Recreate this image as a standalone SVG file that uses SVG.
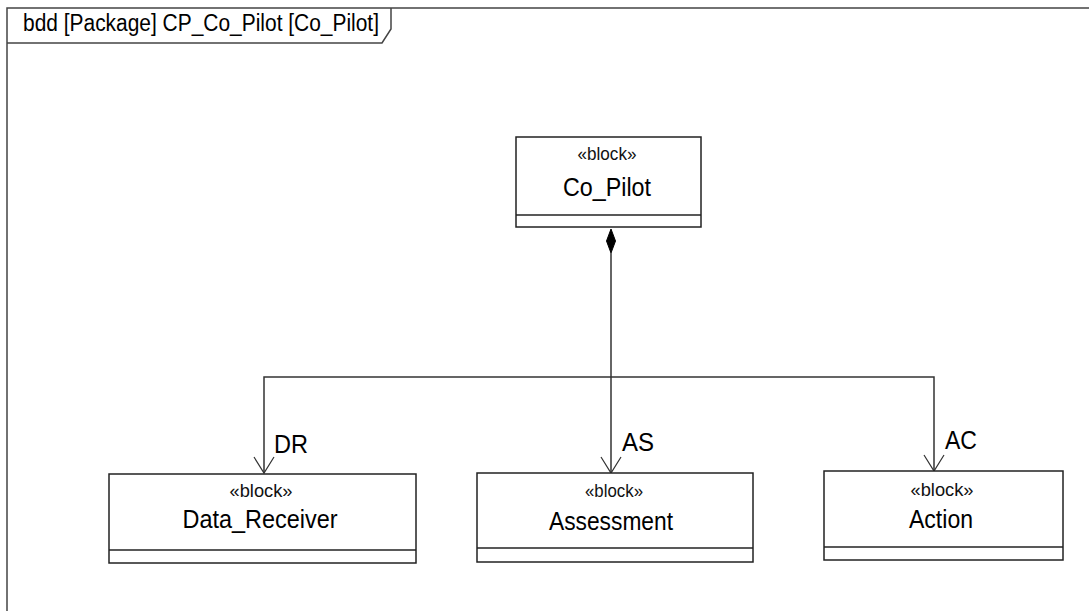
<svg xmlns="http://www.w3.org/2000/svg" width="1089" height="611" viewBox="0 0 1089 611">
  <style>
    .frame { fill: none; stroke: #444; stroke-width: 1.5; }
    .block { fill: #fff; stroke: #222; stroke-width: 1.5; }
    .sep { stroke: #222; stroke-width: 1.5; }
    .conn { fill: none; stroke: #333; stroke-width: 1.5; }
    .head { fill: none; stroke: #333; stroke-width: 1.2; }
    .stereo { font-family: "Liberation Sans Narrow", "Liberation Sans", Arial, sans-serif; font-size: 19px; fill: #111; text-anchor: middle; }
    .name { font-family: "Liberation Sans Narrow", "Liberation Sans", Arial, sans-serif; font-size: 26px; fill: #000; text-anchor: middle; }
    .role { font-family: "Liberation Sans Narrow", "Liberation Sans", Arial, sans-serif; font-size: 26px; fill: #000; }
    .title { font-family: "Liberation Sans Narrow", "Liberation Sans", Arial, sans-serif; font-size: 23px; fill: #000; }
  </style>
  <rect width="1089" height="611" fill="#fff"/>

  <!-- diagram frame and heading tab -->
  <g id="frame">
    <path class="frame" d="M7,611 V8 H1089"/>
    <path class="frame" d="M7,43 H382 L391,29 V8"/>
    <text class="title" x="23" y="31" textLength="356" lengthAdjust="spacingAndGlyphs">bdd [Package] CP_Co_Pilot [Co_Pilot]</text>
  </g>

  <!-- composition connectors -->
  <g id="connectors">
    <path class="conn" d="M611,253 V473"/>
    <path class="conn" d="M264,473 V377 H934 V471"/>
    <path d="M611,229 L615.5,241 L611,253 L606.5,241 Z" fill="#000" stroke="#000" stroke-width="1"/>
    <path class="head" d="M254,457 L264,473 L274,457"/>
    <path class="head" d="M601,457 L611,473 L621,457"/>
    <path class="head" d="M924,455 L934,471 L944,455"/>
    <text class="role" x="274" y="453" textLength="34" lengthAdjust="spacingAndGlyphs">DR</text>
    <text class="role" x="622" y="451" textLength="32" lengthAdjust="spacingAndGlyphs">AS</text>
    <text class="role" x="945" y="449" textLength="32" lengthAdjust="spacingAndGlyphs">AC</text>
  </g>

  <g id="co_pilot">
    <rect class="block" x="516" y="137" width="185" height="90"/>
    <line class="sep" x1="516" y1="215" x2="701" y2="215"/>
    <text class="stereo" x="607" y="160" textLength="59" lengthAdjust="spacingAndGlyphs">«block»</text>
    <text class="name" x="607" y="196" textLength="88" lengthAdjust="spacingAndGlyphs">Co_Pilot</text>
  </g>

  <g id="data_receiver">
    <rect class="block" x="109" y="474" width="307" height="89"/>
    <line class="sep" x1="109" y1="550" x2="416" y2="550"/>
    <text class="stereo" x="261" y="497" textLength="63" lengthAdjust="spacingAndGlyphs">«block»</text>
    <text class="name" x="260" y="528" textLength="155" lengthAdjust="spacingAndGlyphs">Data_Receiver</text>
  </g>

  <g id="assessment">
    <rect class="block" x="477" y="473" width="276" height="89"/>
    <line class="sep" x1="477" y1="548" x2="753" y2="548"/>
    <text class="stereo" x="614" y="497" textLength="58" lengthAdjust="spacingAndGlyphs">«block»</text>
    <text class="name" x="611" y="530" textLength="124" lengthAdjust="spacingAndGlyphs">Assessment</text>
  </g>

  <g id="action">
    <rect class="block" x="824" y="471" width="239" height="89"/>
    <line class="sep" x1="824" y1="547" x2="1063" y2="547"/>
    <text class="stereo" x="942" y="496" textLength="63" lengthAdjust="spacingAndGlyphs">«block»</text>
    <text class="name" x="941" y="528" textLength="64" lengthAdjust="spacingAndGlyphs">Action</text>
  </g>
</svg>
